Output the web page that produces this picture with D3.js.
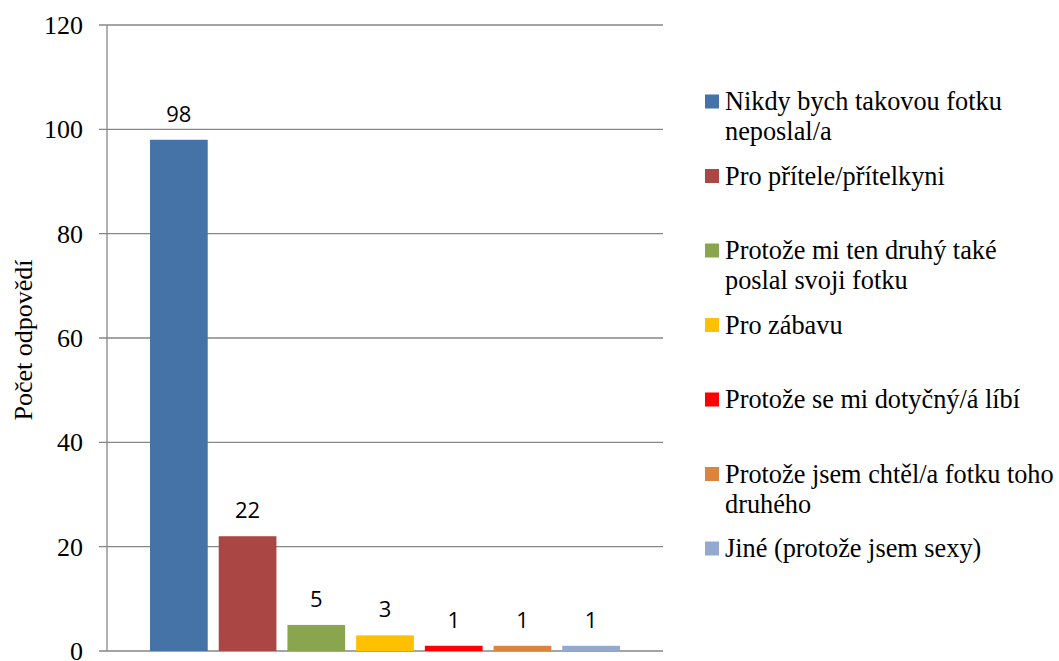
<!DOCTYPE html>
<html>
<head>
<meta charset="utf-8">
<script src="https://cdn.jsdelivr.net/npm/d3@7"></script>
<style>
  html, body { margin: 0; padding: 0; background: #fff; }
  svg { display: block; }
  #chart text.serif { font-family: "Liberation Serif", "Times New Roman" !important; }
  #chart text.val { font-family: "Open Sans" !important; }
</style>
</head>
<body>
<svg id="chart" width="1059" height="661"></svg>
<script>
// ---- data ----
const seriesNames = [
  "Nikdy bych takovou fotku\nneposlal/a",
  "Pro přítele/přítelkyni",
  "Protože mi ten druhý také\nposlal svoji fotku",
  "Pro zábavu",
  "Protože se mi dotyčný/á líbí",
  "Protože jsem chtěl/a fotku toho\ndruhého",
  "Jiné (protože jsem sexy)"
];
const seriesValues = [98, 22, 5, 3, 1, 1, 1];
const seriesColors = ["#4572A7", "#AA4643", "#89A54E", "#FFC000", "#FF0000", "#DB843D", "#93A9CF"];
const yTicks = [0, 20, 40, 60, 80, 100, 120];
const yTitle = "Počet odpovědí";

// ---- layout ----
const SERIF = '"Liberation Serif"';
const SANS = '"Open Sans"';
const plot = { left: 107, right: 663, top: 25, bottom: 651 };
const svg = d3.select("#chart");

const y = d3.scaleLinear().domain([0, 120]).range([plot.bottom, plot.top]);
const x = d3.scaleBand()
  .domain(d3.range(seriesValues.length))
  .range([150, 620])
  .paddingInner(0.16)
  .paddingOuter(0);

// gridlines
svg.append("g")
  .selectAll("line")
  .data(yTicks)
  .join("line")
  .attr("x1", plot.left - 8)
  .attr("x2", plot.right)
  .attr("y1", d => y(d))
  .attr("y2", d => y(d))
  .attr("stroke", "#868686")
  .attr("stroke-width", 1.3);

// y axis line
svg.append("line")
  .attr("x1", plot.left).attr("x2", plot.left)
  .attr("y1", plot.top).attr("y2", plot.bottom)
  .attr("stroke", "#868686")
  .attr("stroke-width", 1.3);

// y tick labels
svg.append("g")
  .selectAll("text")
  .data(yTicks)
  .join("text")
  .attr("class", "serif")
  .attr("font-family", "Liberation Serif")
  .style("font-family", SERIF, "important")
  .style("font-size", "26px")
  .attr("x", 83)
  .attr("y", d => y(d))
  .attr("dy", "0.34em")
  .attr("text-anchor", "end")
  .attr("fill", "#000")
  .text(d => d);

// y axis title
svg.append("text")
  .attr("class", "serif")
  .attr("font-family", "Liberation Serif")
  .style("font-family", SERIF, "important")
  .style("font-size", "26px")
  .attr("transform", `translate(32, ${(plot.top + plot.bottom) / 2 + 2}) rotate(-90)`)
  .attr("text-anchor", "middle")
  .attr("fill", "#000")
  .text(yTitle);

// bars
svg.append("g")
  .selectAll("rect")
  .data(seriesValues)
  .join("rect")
  .attr("x", (d, i) => x(i))
  .attr("width", x.bandwidth())
  .attr("y", d => y(d))
  .attr("height", d => y(0) - y(d))
  .attr("fill", (d, i) => seriesColors[i]);

// value labels
svg.append("g")
  .selectAll("text")
  .data(seriesValues)
  .join("text")
  .attr("class", "val")
  .style("font-family", SANS, "important")
  .style("font-size", "22px")
  .attr("x", (d, i) => x(i) + x.bandwidth() / 2)
  .attr("y", d => y(d) - 18)
  .attr("text-anchor", "middle")
  .attr("fill", "#000")
  .text(d => d);

// legend
const legend = svg.append("g");
const legendTop = 101.5, legendStep = 74.5, lineH = 30;
const items = legend.selectAll("g")
  .data(seriesNames)
  .join("g")
  .attr("transform", (d, i) => `translate(705, ${legendTop + i * legendStep})`);
items.append("rect")
  .attr("x", 0).attr("y", -7)
  .attr("width", 14).attr("height", 14)
  .attr("fill", (d, i) => seriesColors[i]);
items.append("text")
  .attr("class", "serif")
  .attr("font-family", "Liberation Serif")
  .style("font-family", SERIF, "important")
  .style("font-size", "26.3px")
  .attr("fill", "#000")
  .selectAll("tspan")
  .data(d => d.split("\n"))
  .join("tspan")
  .attr("x", 20)
  .attr("y", (d, j) => j * lineH + 8.5)
  .text(d => d);
</script>
</body>
</html>
